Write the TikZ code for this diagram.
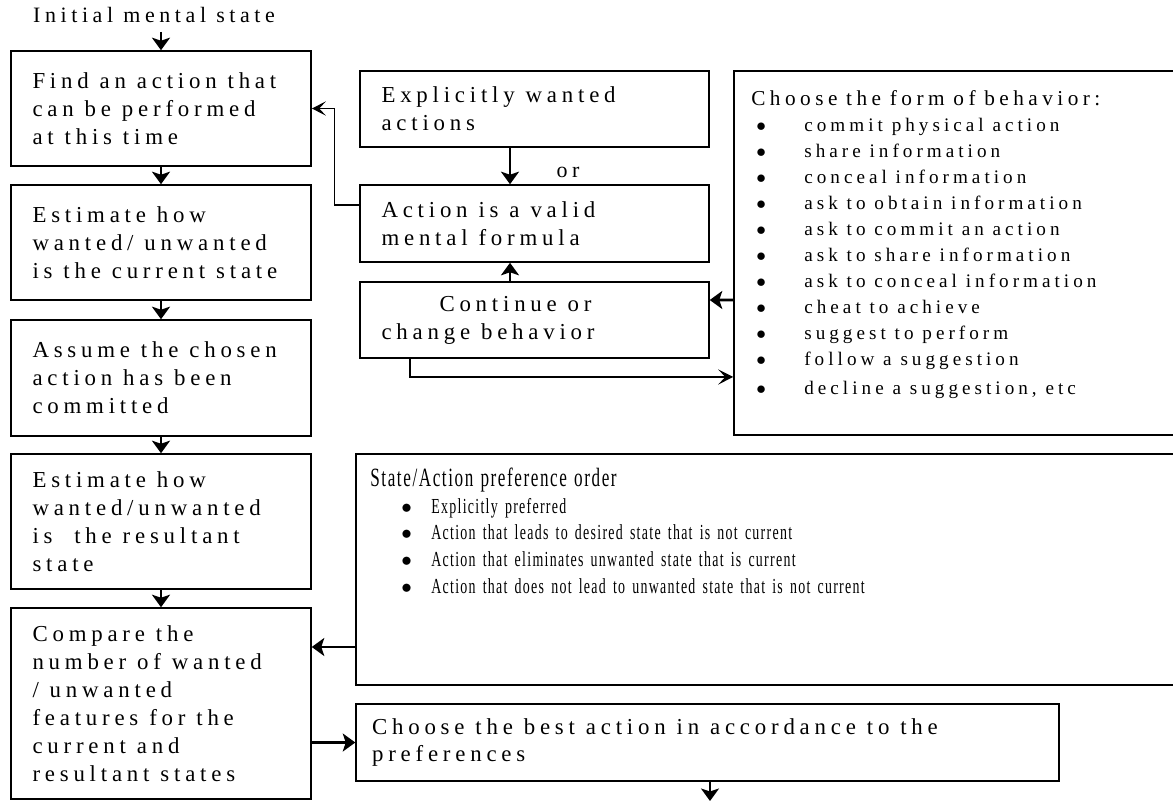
\documentclass[tikz,border=0pt]{standalone}
\usepackage{fontspec}
\setmainfont{Liberation Serif}[LetterSpace=21]
\newfontfamily\narrowfont{Liberation Serif}[FakeStretch=0.65,LetterSpace=6]
\usetikzlibrary{arrows.meta}

\tikzset{
  wide space/.style={execute at begin node={\spaceskip=#1\relax}},
  flowbox/.style={draw,line width=0.9pt,inner xsep=0.43cm,inner ysep=0pt,align=left,font=\fontsize{13}{15.9}\selectfont,wide space=6.2pt},
  colbox/.style={flowbox,text width=5.14cm},
  midbox/.style={flowbox,text width=6.12cm},
  bigbox/.style={draw,line width=0.9pt,inner sep=0pt},
  listtext/.style={inner sep=0pt,anchor=north west,align=left},
  arr/.style={-{Stealth[length=2.5mm,width=3.6mm,inset=0.6mm]},line width=1.6pt},
  thinarr/.style={-{Stealth[length=2.8mm,width=2.8mm,inset=1.3mm]},line width=0.8pt},
}
\newcommand{\bul}[1]{\makebox[#1][l]{$\bullet$}}

\begin{document}
\begin{tikzpicture}[x=0.02cm,y=-0.02cm]
\useasboundingbox (0,0) rectangle (1173,801);
\clip (0,0) rectangle (1173,801);
\node[font=\fontsize{12.5}{15}\selectfont,inner ysep=5pt] (init) at (154,15) {Initial mental state};
\node[colbox,minimum height=2.3cm] (b1) at (161,108.5) {Find an action that\\can be performed\\at this time};
\node[colbox,minimum height=2.3cm] (b2) at (161,242.5) {Estimate how\\wanted/ unwanted\\is the current state};
\node[colbox,minimum height=2.32cm] (b3) at (161,378) {Assume the chosen\\action has been\\committed};
\node[colbox,minimum height=2.7cm] (b4) at (161,521.5) {Estimate how\\wanted/unwanted\\is\ \ the resultant\\state};
\node[colbox,minimum height=3.82cm] (b5) at (161,703.5) {Compare the\\number of wanted\\/ unwanted\\features for the\\current and\\resultant states};
\node[midbox,minimum height=1.52cm] (ew) at (534.5,109) {Explicitly wanted\\actions};
\node[midbox,minimum height=1.54cm] (valid) at (534.5,223.5) {Action is a valid\\mental formula};
\node[midbox,minimum height=1.52cm] (cont) at (534.5,320) {\hspace*{1.16cm}Continue or\\change behavior};
\node[font=\fontsize{12.5}{15}\selectfont] (or) at (568,172) {or};
\node[bigbox,minimum width=8.92cm,minimum height=7.28cm] (form) at (957,253) {};
\node[listtext,text width=8.4cm,font=\fontsize{10.9}{14.8}\selectfont,wide space=5pt] (formlist) at (751,90) {{\fontsize{12.1}{14.8}\selectfont Choose the form of behavior:}\\
\hspace*{0.1cm}\bul{0.96cm}commit physical action\\
\hspace*{0.1cm}\bul{0.96cm}share information\\
\hspace*{0.1cm}\bul{0.96cm}conceal information\\
\hspace*{0.1cm}\bul{0.96cm}ask to obtain information\\
\hspace*{0.1cm}\bul{0.96cm}ask to commit an action\\
\hspace*{0.1cm}\bul{0.96cm}ask to share information\\
\hspace*{0.1cm}\bul{0.96cm}ask to conceal information\\
\hspace*{0.1cm}\bul{0.96cm}cheat to achieve\\
\hspace*{0.1cm}\bul{0.96cm}suggest to perform\\
\hspace*{0.1cm}\bul{0.96cm}follow a suggestion\\[2pt]
\hspace*{0.1cm}\bul{0.96cm}decline a suggestion, etc};
\node[bigbox,minimum width=16.48cm,minimum height=4.62cm] (pref) at (768,569.5) {};
\node[listtext,text width=15cm,font=\narrowfont\fontsize{12.2}{15.1}\selectfont] (preflist) at (370,468) {{\fontsize{15}{15.1}\selectfont State/Action preference order}\\
\hspace*{0.62cm}\bul{0.6cm}Explicitly preferred\\
\hspace*{0.62cm}\bul{0.6cm}Action that leads to desired state that is not current\\
\hspace*{0.62cm}\bul{0.6cm}Action that eliminates unwanted state that is current\\
\hspace*{0.62cm}\bul{0.6cm}Action that does not lead to unwanted state that is not current};
\node[flowbox,inner xsep=0.32cm,text width=13.42cm,minimum height=1.54cm] (best) at (707.5,742.5) {Choose the best action in accordance to the\\preferences};
\coordinate (end) at (710,801);
\draw[arr] (init.south -| b1.north) -- (b1.north);
\draw[arr] (b1.south) -- (b2.north);
\draw[arr] (b2.south) -- (b3.north);
\draw[arr] (b3.south) -- (b4.north);
\draw[arr] (b4.south) -- (b5.north);
\draw[arr] ([xshift=-0.49cm]ew.south) -- ([xshift=-0.49cm]valid.north);
\draw[arr] ([xshift=-0.49cm]cont.north) -- ([xshift=-0.49cm]valid.south);
\draw[thinarr] ([yshift=0.37cm]valid.west) -- ++(-25,0) |- (b1.east);
\draw[arr,-{Stealth[length=3mm,width=3mm,inset=1.4mm]}] ([xshift=-2.49cm]cont.south) |- ([yshift=-2.48cm]form.west);
\draw[arr] ([yshift=-0.94cm]form.west) -- ([yshift=0.4cm]cont.east);
\draw[arr] ([yshift=-1.55cm]pref.west) coordinate (pin) -- (pin -| b5.east);
\draw[arr] (b5.east |- best.west) -- (best.west);
\draw[arr] (best.south -| end) -- (end);
\end{tikzpicture}
\end{document}
